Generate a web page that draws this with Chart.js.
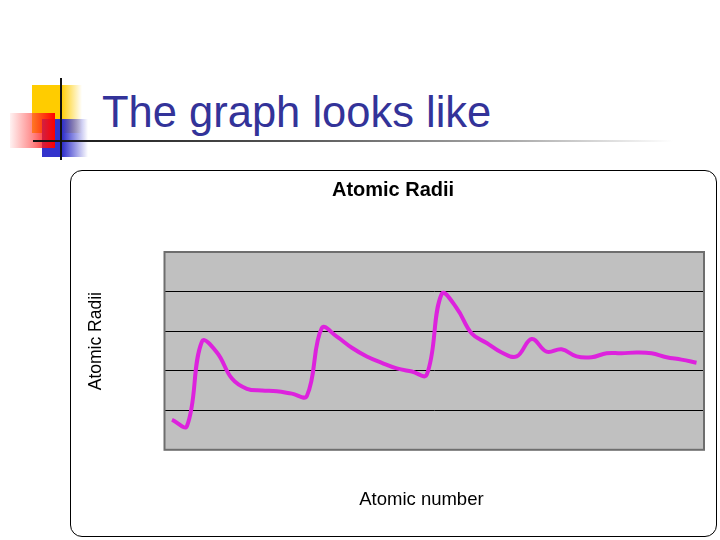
<!DOCTYPE html>
<html>
<head>
<meta charset="utf-8">
<script src="https://cdn.jsdelivr.net/npm/chart.js@4.4.1/dist/chart.umd.min.js"></script>
<style>
  html, body { margin: 0; padding: 0; background: #fff; }
  body { width: 720px; height: 540px; position: relative; overflow: hidden; }
  .sq { position: absolute; }
  #yellow { left: 32px; top: 85px; width: 50px; height: 48px;
    background: linear-gradient(to right, #ffcc00 0%, #ffcc00 58%, rgba(255,204,0,0) 100%); }
  #blue { left: 42px; top: 119px; width: 46px; height: 38px;
    background: linear-gradient(to right, #3333cc 0%, #3333cc 45%, rgba(51,51,204,0) 100%); }
  #red { left: 10px; top: 113px; width: 45px; height: 35px;
    background: linear-gradient(to right, rgba(255,0,0,0.05) 0%, rgba(255,60,60,0.6) 50%, #ff0000 100%); }
  #vline { left: 60px; top: 78px; width: 2px; height: 82px; background: #111; }
  #hline { left: 33px; top: 140px; width: 640px; height: 2px;
    background: linear-gradient(to right, #111 0%, #555 40%, #aaa 75%, rgba(200,200,200,0) 100%); }
  #title { position: absolute; left: 102px; top: 91px; font-family: "Liberation Sans", Arial, sans-serif;
    font-size: 43.5px; line-height: 1; color: #333399; white-space: nowrap; }
  #box { position: absolute; left: 70px; top: 170px; width: 645px; height: 365px;
    border: 1px solid #000; border-radius: 12px; }
  #chartWrap { position: absolute; left: 71px; top: 171px; width: 645px; height: 365px; }
</style>
</head>
<body>
<div class="sq" id="yellow"></div>
<div class="sq" id="blue"></div>
<div class="sq" id="red"></div>
<div class="sq" id="hline"></div>
<div class="sq" id="vline"></div>
<div id="title">The graph looks like</div>
<div id="box"></div>
<div id="chartWrap"><canvas id="chartRadii" width="645" height="365"></canvas></div>

<script>
  // atomic numbers 1..36 (H to Kr)
  var atomicNumbers = [1, 2, 3, 4, 5, 6, 7, 8, 9, 10, 11, 12, 13, 14, 15, 16, 17, 18,
    19, 20, 21, 22, 23, 24, 25, 26, 27, 28, 29, 30, 31, 32, 33, 34, 35, 36];

  // radii
  var radii = [38, 30, 137, 123, 90, 77, 75, 74, 71, 68,
    154, 143, 129, 118, 110, 103, 99, 95,
    197, 179, 147, 135, 123, 118, 140, 124, 127, 118, 117, 122,
    122, 123, 122, 117, 114, 110];

  var yTicks = [0, 50, 100, 150, 200, 250];

  var plotBox = {
    id: "plotBox",
    beforeDraw: function (chart) {
      var a = chart.chartArea, ctx = chart.ctx;
      ctx.save();
      ctx.fillStyle = "#c0c0c0";
      ctx.fillRect(a.left, a.top, a.right - a.left, a.bottom - a.top);
      ctx.restore();
    },
    afterDatasetsDraw: function (chart) {
      var a = chart.chartArea, ctx = chart.ctx;
      ctx.save();
      ctx.strokeStyle = "#6e6e6e";
      ctx.lineWidth = 2;
      ctx.strokeRect(a.left, a.top, a.right - a.left, a.bottom - a.top);
      ctx.restore();
    }
  };

  var ctx = document.getElementById("chartRadii").getContext("2d");
  var chart = new Chart(ctx, {
    type: "line",
    data: {
      labels: atomicNumbers,
      datasets: [
        {
          label: "Atomic Radii",
          data: radii,
          borderColor: "#dd22dd",
          borderWidth: 4,
          pointRadius: 0,
          tension: 0.4,
          fill: false,
        },
      ],
    },
    options: {
      responsive: false,
      animation: false,
      devicePixelRatio: 1,
      layout: { padding: { left: 0, right: 12, top: 0, bottom: 0 } },
      plugins: {
        legend: { display: false },
        tooltip: { enabled: false },
        title: {
          display: true,
          text: "\u00a0\u00a0Atomic Radii",
          color: "#000",
          font: { family: "'Liberation Sans', Arial, sans-serif", size: 20, weight: "bold" },
          padding: { top: 7, bottom: 50 },
        },
      },
      scales: {
        x: {
          type: "category",
          offset: true,
          grid: { display: false, drawTicks: false },
          border: { display: false },
          ticks: { display: false },
          title: {
            display: true,
            text: "Atomic number\u00a0\u00a0\u00a0\u00a0\u00a0",
            color: "#000",
            font: { family: "'Liberation Sans', Arial, sans-serif", size: 18.5 },
            padding: { top: 39, bottom: 25 },
          },
        },
        y: {
          min: 0,
          max: 250,
          afterBuildTicks: function (axis) {
            axis.ticks = yTicks.map(function (v) { return { value: v }; });
          },
          grid: { color: "#000", lineWidth: 1, drawTicks: false },
          border: { display: false },
          ticks: { display: false },
          title: {
            display: true,
            text: "\u00a0\u00a0\u00a0\u00a0Atomic Radii",
            color: "#000",
            font: { family: "'Liberation Sans', Arial, sans-serif", size: 17.5 },
            padding: { top: 15, bottom: 57.5 },
          },
        },
      },
    },
    plugins: [plotBox],
  });
</script>
</body>
</html>
